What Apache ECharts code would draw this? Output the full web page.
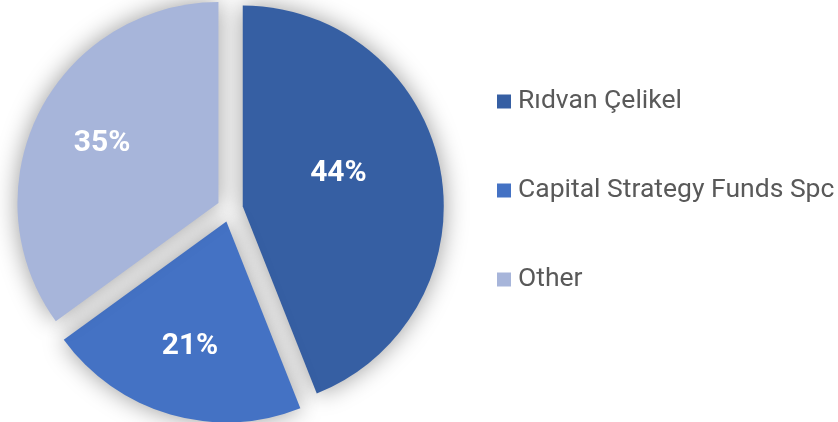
<!DOCTYPE html>
<html>
<head>
<meta charset="utf-8">
<script src="https://cdn.jsdelivr.net/npm/echarts@6/dist/echarts.min.js"></script>
<style>
  html, body { margin: 0; padding: 0; background: #ffffff; }
  #pie { width: 838px; height: 422px; }
</style>
</head>
<body>
<div id="pie"></div>
<script>
// shares of holders
var names = ['Rıdvan Çelikel', 'Capital Strategy Funds Spc', 'Other'];
var shares = [44, 21, 35];
var colors = ['#365FA3', '#4472C4', '#A7B5DA'];

function initPie() {
    var chart = echarts.init(document.getElementById('pie'));

    var sliceData = names.map(function (n, i) {
        return { name: n, value: shares[i], selected: true, itemStyle: { color: colors[i] } };
    });
    // same slices again, transparent, only to carry the percent labels
    var labelData = names.map(function (n, i) {
        var item = { name: n, value: shares[i] };
        if (i === 0) {
            // nudge the big slice's label up and left, like the original
            item.label = { padding: [0, 65, 0, 0], formatter: '{c}%\n', lineHeight: 18 };
        }
        return item;
    });

    var option = {
        animation: false,
        legend: {
            orient: 'vertical',
            left: 492,
            top: 83,
            itemWidth: 14,
            itemHeight: 14,
            itemGap: 62,
            icon: 'rect',
            selectedMode: false,
            data: names,
            textStyle: {
                fontFamily: 'Roboto',
                fontSize: 26.5,
                lineHeight: 27,
                color: '#595959',
                padding: [0, 0, 0, 2]
            }
        },
        series: [{
            type: 'pie',
            center: [230, 209],
            radius: 201,
            selectedMode: 'multiple',
            selectedOffset: 13,
            silent: true,
            label: { show: false },
            labelLine: { show: false },
            itemStyle: {
                shadowBlur: 24,
                shadowColor: 'rgba(0,0,0,0.4)'
            },
            data: sliceData
        }, {
            type: 'pie',
            z: 5,
            center: [230, 209],
            radius: [80, 201],
            silent: true,
            itemStyle: { color: 'rgba(0,0,0,0)' },
            label: {
                show: true,
                position: 'inside',
                formatter: '{c}%',
                color: '#ffffff',
                fontFamily: 'Roboto',
                fontWeight: 'bold',
                fontSize: 30
            },
            labelLine: { show: false },
            data: labelData
        }]
    };
    chart.setOption(option);
}

initPie();
</script>
</body>
</html>
